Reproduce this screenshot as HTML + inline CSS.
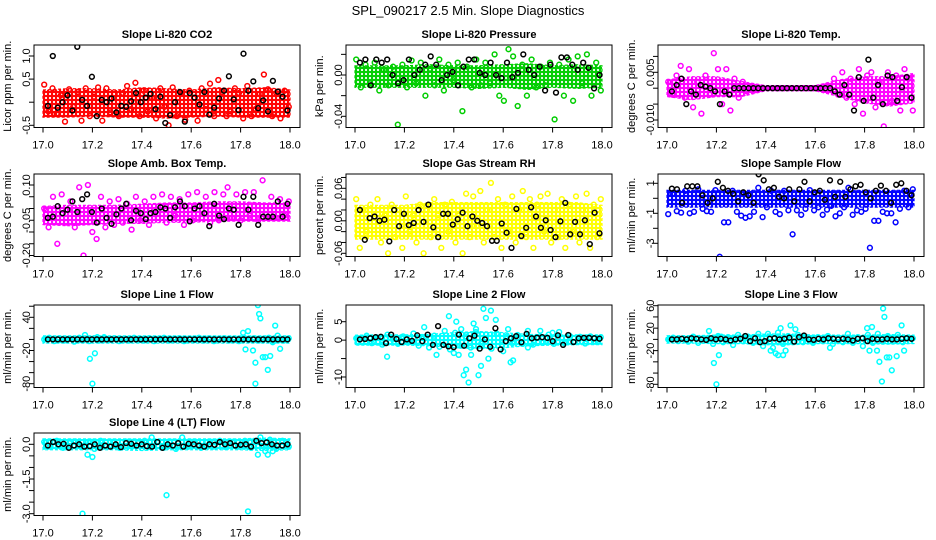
<!DOCTYPE html>
<html><head><meta charset="utf-8"><title>SPL_090217 Slope Diagnostics</title>
<style>
html,body{margin:0;padding:0;background:#fff;}
svg{display:block;font-family:"Liberation Sans",Arial,sans-serif;}
</style></head>
<body>
<svg id="chart" width="936" height="540" viewBox="0 0 936 540" xmlns="http://www.w3.org/2000/svg">
<rect width="936" height="540" fill="#fff"/>
<text x="468" y="15" text-anchor="middle" font-size="13">SPL_090217  2.5 Min. Slope Diagnostics</text>
</svg>
<script>
// ---------- DATA ----------
const xTicks = [17.0,17.2,17.4,17.6,17.8,18.0];
const xTickLabels = ["17.0","17.2","17.4","17.6","17.8","18.0"];

// Panel 1: CO2
const co2Lo = [-0.28,-0.28,-0.26,-0.28,-0.28,-0.3,-0.28,-0.26,-0.28,-0.28,-0.28];
const co2Hi = [0.22,0.25,0.25,0.22,0.27,0.25,0.22,0.27,0.25,0.27,0.22];
const co2Vals = [0.38,-0.2,0.3,-0.25,0.15,-0.42,0.28,-0.1,0.22,-0.4,0.3,-0.3,0.12,0.32,-0.4,0.3,-0.22,0.18,-0.3,0.2,0.35,-0.15,0.42,-0.3,0.25,-0.2,0.1,-0.35,0.3,-0.1,-0.5,0.32,-0.3,0.2,-0.38,0.25,-0.25,-0.4,0.3,-0.15,0.4,-0.3,0.48,0.22,-0.3,-0.2,0.3,0.2,-0.35,0.35,-0.3,-0.15,0.18,0.6,0.28,-0.3,0.2,-0.35,0.25,-0.1];
const co2Black = [-0.08,1.0,-0.12,0.0,0.15,-0.18,1.2,0.05,-0.08,0.55,-0.3,0.05,0.0,0.08,-0.22,-0.08,-0.1,0.02,0.2,0.0,0.1,0.18,-0.15,0.12,-0.45,-0.28,0.0,0.22,-0.42,0.2,0.1,-0.05,0.22,-0.27,-0.12,0.08,0.25,0.56,0.06,-0.17,1.05,0.25,0.45,-0.13,0.04,-0.2,0.46,0.23,0.12,-0.18];
const co2Ticks = [-0.5,0,0.5,1.0];
const co2TickLabels = ["-0.5","","0.5","1.0"];

// Panel 2: Pressure
const prLo = [-0.01,-0.01,-0.01,-0.01,-0.01,-0.011,-0.01,-0.012,-0.01,-0.011,-0.01];
const prHi = [0.007,0.007,0.007,0.008,0.007,0.007,0.008,0.009,0.007,0.008,0.007];
const prVals = [0.015,-0.012,0.01,-0.008,0.012,-0.015,0.005,-0.01,0.008,-0.048,0.01,-0.012,0.014,-0.008,0.012,-0.02,0.006,-0.01,0.015,-0.015,0.01,-0.005,0.012,-0.035,0.008,-0.012,0.015,-0.01,0.012,-0.008,0.02,-0.02,-0.025,0.025,0.018,-0.03,0.01,-0.02,0.015,-0.012,0.008,-0.01,0.012,-0.043,0.01,-0.02,0.015,-0.025,0.018,-0.008,0.02,-0.02,0.012,-0.015];
const prBlack = [0.012,0.015,-0.01,0.015,0.012,0.015,0.0,-0.008,-0.005,0.015,0.0,0.005,0.01,0.018,0.01,-0.005,0.0,0.003,-0.01,0.008,0.015,0.015,0.002,0.0,0.012,0.0,-0.003,0.012,-0.002,0.002,0.02,0.005,0.0,0.008,-0.015,0.01,-0.017,0.017,0.017,0.01,0.005,0.012,0.007,-0.013,0.0];
const prTicks = [-0.04,-0.02,0,0.02];
const prTickLabels = ["-0.04","","0.00",""];

// Panel 3: Li-820 Temp
const ltLo = [-0.002,-0.003,-0.002,-0.002,-0.0002,-0.0002,-0.0002,-0.002,-0.004,-0.005,-0.004];
const ltHi = [0.002,0.003,0.003,0.0015,0.0002,0.0002,0.0002,0.002,0.003,0.003,0.004];
const ltVals = [0.002,-0.002,0.004,0.007,-0.003,0.006,-0.006,0.002,-0.008,0.004,-0.002,0.011,0.006,-0.005,0.006,-0.007,0.003,-0.003,0.002,-0.001,0,0,0,0,0,0,0,0,0,0,0,0,0,0,0,0,0,0,0,0,0.003,-0.002,0.005,-0.003,0.003,-0.005,0.006,-0.008,0.004,0.005,-0.006,0.002,-0.012,0.005,-0.004,0.004,-0.007,0.006,0.003,-0.007];
const ltBlack = [-0.001,0.001,0.003,-0.005,-0.001,-0.002,0.001,0.0005,0,-0.001,-0.005,-0.001,-0.002,0,0,0,0,0,0,0,0,0,0,0,0,0,0,0,0,0,0,0,0,0,-0.001,-0.002,0.001,-0.002,-0.007,0.0035,-0.004,0.009,-0.003,0.001,-0.005,0.004,0.0035,-0.004,0.0003,0.0035,-0.003];
const ltTicks = [-0.010,-0.005,0,0.005,0.010];
const ltTickLabels = ["-0.010","","","0.005",""];

// Panel 4: Amb Box Temp
const abLo = [-0.06,-0.065,-0.06,-0.055,-0.055,-0.05,-0.05,-0.045,-0.045,-0.045,-0.045];
const abHi = [0.0,0.005,0.005,0.005,0.01,0.015,0.015,0.02,0.02,0.015,0.015];
const abVals = [0.0,-0.08,0.05,-0.15,0.06,-0.06,0.03,-0.08,0.09,-0.2,0.1,-0.1,-0.13,0.05,-0.08,0.03,-0.07,0.04,-0.06,0.02,-0.09,0.05,-0.05,0.03,-0.07,0.05,-0.04,0.06,-0.06,0.05,-0.03,0.04,-0.07,0.06,-0.05,0.07,-0.04,0.05,-0.06,0.07,-0.05,0.06,0.09,-0.04,0.06,-0.05,0.07,-0.03,0.07,-0.05,0.12,-0.04,0.05,-0.04,0.04,-0.03,0.03];
const abBlack = [-0.04,-0.035,0.01,-0.02,-0.005,0.03,-0.015,0.04,0.06,-0.015,-0.06,0.0,-0.04,-0.065,-0.025,0.0,0.02,-0.05,-0.01,-0.02,-0.045,-0.02,-0.015,0.005,0.0,-0.04,0.005,0.03,0.01,-0.055,0.0,0.01,-0.02,-0.075,0.02,-0.03,-0.045,0.0,-0.005,-0.07,0.05,-0.005,0.05,-0.07,-0.035,-0.035,-0.035,0.03,-0.035,0.02];
const abTicks = [-0.20,-0.15,-0.10,-0.05,0,0.05,0.10];
const abTickLabels = ["-0.20","","","-0.05","","","0.10"];

// Panel 5: Gas Stream RH
const rhLo = [-0.03,-0.03,-0.03,-0.03,-0.03,-0.03,-0.03,-0.03,-0.03,-0.03,-0.03];
const rhHi = [0.025,0.025,0.025,0.03,0.03,0.03,0.03,0.03,0.03,0.03,0.025];
const rhVals = [0.04,-0.05,0.02,-0.02,0.03,-0.01,0.04,-0.04,0.01,-0.06,0.03,-0.03,0.02,-0.05,0.045,-0.02,0.01,-0.04,0.03,-0.06,0.02,-0.03,0.04,0.01,-0.05,0.03,-0.02,0.035,-0.04,0.01,-0.06,0.05,-0.03,0.045,-0.01,0.055,-0.04,0.02,0.07,-0.03,0.04,-0.05,0.03,-0.02,0.045,-0.04,0.02,0.055,-0.03,0.04,-0.05,0.03,0.045,-0.02,0.05,-0.04,0.02,-0.03,0.04,-0.05,0.03,-0.02,0.045,-0.04,0.02,0.05,-0.05,0.03,-0.03,0.04];
const rhBlack = [0.02,-0.035,0.005,0.008,0.0,0.002,-0.038,0.02,-0.01,0.013,-0.008,-0.004,0.02,-0.002,0.03,-0.012,-0.03,0.013,0.013,-0.007,0.003,0.015,-0.01,0.008,0.0,-0.004,-0.01,-0.037,-0.037,-0.005,-0.022,-0.05,0.022,-0.028,-0.013,0.025,0.008,-0.013,0.001,-0.017,-0.03,-0.001,0.033,-0.025,-0.002,-0.025,0.001,-0.043,0.015,-0.023];
const rhTicks = [-0.06,-0.04,-0.02,0,0.02,0.04,0.06,0.08];
const rhTickLabels = ["-0.06","","","0.00","","","0.06",""];

// Panel 6: Sample Flow
const sfLo = [-0.45,-0.45,-0.45,-0.45,-0.45,-0.45,-0.45,-0.45,-0.45,-0.45,-0.45];
const sfHi = [0.4,0.4,0.4,0.4,0.4,0.4,0.4,0.4,0.4,0.4,0.4];
const sfVals = [-1.05,0.3,-0.85,-0.95,0.5,-1.0,-0.9,0.6,-0.7,-0.85,-0.9,0.55,-3.9,-1.6,-1.6,0.5,-0.9,-1.15,-1.3,-1.2,-0.9,0.7,-1.25,-0.6,0.5,-0.9,-1.05,0.5,-0.8,-2.4,-0.8,-1.1,-0.7,0.55,-0.8,-0.6,-1.1,-0.75,-0.5,-1.2,-1.0,-0.6,0.7,-1.1,-0.8,-0.9,-0.7,-3.3,-1.5,-1.5,-0.9,-1.0,-1.0,-1.6,-0.7,0.5,-0.6,0.6];
const sfBlack = [0.65,0.6,-0.3,0.8,0.8,0.8,0.2,-0.3,0.0,1.1,0.7,0.5,0.3,-0.2,0.4,0.2,-0.3,1.6,1.2,0.6,0.7,0.1,0.0,0.6,-0.2,0.6,1.1,-0.2,0.4,0.5,-0.1,1.2,0.1,1.1,0.1,0.6,0.8,0.9,0.4,0.0,0.5,0.85,0.5,-0.3,0.9,1.0,0.5,0.2];
const sfTicks = [-3,-2,-1,0,1];
const sfTickLabels = ["-3","","-1","","1"];

// Panel 7: Line 1 Flow
const l1Lo = [-3,-3,-3,-3,-3,-3,-3,-3,-3,-3,-3];
const l1Hi = [3,3,3,3,3,3,3,3,3,3,3];
const l1Vals = [0,3,-3,2,-2,1,-4,3,0,-3,2,-2,4,-1,2,-3,1,-2,3,0,-2,2,-3,1,3,-2,0,2,-3,1,-1,3,-2,2,-3,0,2,-2,1,-3,3,-1,2,-2,0,3,-3,1,-2,2];
const l1OutX = [17.17,17.19,17.2,17.21,17.22,17.81,17.82,17.83,17.85,17.86,17.86,17.87,17.875,17.88,17.89,17.9,17.91,17.92,17.93,17.94,17.95,17.96];
const l1OutY = [8,-35,-80,-25,4,12,-18,15,-20,-42,-80,62,46,38,-32,-32,-55,-30,-5,25,7,-17];
const l1Black = [0,0,0,0,0,0,0,0,0,0,0,0,0,0,0,0,0,0,0,0,0,0,0,0,0,0,0,0,0,0,0,0,0,0,0,0,0,0,0,0,0,0,0,0,0,0,0,0,0,0];
const l1Ticks = [-80,-60,-40,-20,0,20,40,60];
const l1TickLabels = ["-80","","","-20","","","40",""];

// Panel 8: Line 2 Flow
const l2Lo = [-0.8,-0.8,-0.8,-1.0,-1.5,-1.8,-1.5,-1.0,-0.8,-0.7,-0.7];
const l2Hi = [0.8,0.9,0.9,1.0,1.5,1.8,1.5,1.0,0.9,0.9,0.9];
const l2Vals = [0.5,-0.5,1.2,-0.8,0.6,-1.2,1.5,0.2,-1.0,1.0,-0.5,1.8,-1.5,0.8,-2.0,1.2,-1.8,2.5,-2.5,2.0,-1.5,1.0,-2.0,2.2,-1.0,1.5,-2.3,1.8,-1.2,1.0,-0.8,1.4,-1.0,2.5,-1.2,0.8,-0.6,1.5,-1.0,2.2,-0.8,1.2,-0.5,0.9,-0.9,1.0,-0.4,0.8];
const l2OutX = [17.13,17.28,17.3,17.33,17.38,17.4,17.41,17.42,17.43,17.44,17.45,17.46,17.47,17.48,17.49,17.5,17.51,17.52,17.53,17.54,17.55,17.57,17.6,17.62,17.63,17.64,17.7,17.75,17.8];
const l2OutY = [-4.5,3.5,-2,-4,6.5,-3.5,5,-4,3,-9.5,-8,-11.5,-4,4.5,3,-9.5,-7,8.5,6,-5,8,5.5,-3,3,-6,-5.5,-2,2.5,2];
const l2Black = [0.2,0.3,0.5,0.8,0.9,-0.8,1.5,0.3,-0.5,0.2,-0.2,1.3,-0.3,1.5,-1.3,3.8,-1.3,-1.7,-1.9,1.5,-1.5,0.5,1.2,-2.3,0.2,-1.8,3.2,-2.5,-0.3,0.5,1.1,-0.6,1.7,0.5,0.7,0.8,0.6,-0.3,1.3,-1.3,1.4,-0.5,0.5,0.6,0.6,0.5,0.4];
const l2Ticks = [-10,-5,0,5];
const l2TickLabels = ["-10","","0","5"];

// Panel 9: Line 3 Flow
const l3Lo = [-3,-3,-4,-4,-6,-6,-4,-4,-4,-5,-4];
const l3Hi = [3,3,4,4,6,6,4,4,4,5,4];
const l3Vals = [0,3,-3,2,-4,5,-6,2,0,-8,6,-5,4,-10,8,-3,5,-6,3,-12,10,-15,12,-8,6,-4,8,-5,2,-6,4,-3,6,-8,3,-5,10,-6,4,-12,8,-6,10,-4,6,-3,8,-5,3,2];
const l3OutX = [17.17,17.19,17.2,17.21,17.22,17.37,17.42,17.44,17.45,17.46,17.47,17.48,17.5,17.52,17.55,17.66,17.81,17.82,17.83,17.85,17.86,17.87,17.875,17.88,17.89,17.9,17.91,17.93,17.95,17.96];
const l3OutY = [15,-42,-80,-28,5,10,-20,-25,-28,20,-28,-20,25,18,5,-15,20,-20,22,-20,-40,-75,55,40,-32,-32,-55,-30,25,-20];
const l3Black = [0,0,1,0,2,1,0,-1,2,0,1,0,-2,0,1,6,-3,2,-5,-3,1,2,0,1,3,-4,4,7,0,-1,1,0,2,1,0,1,0,-2,1,2,-3,1,0,0,1,0,0,1,2,1];
const l3Ticks = [-80,-60,-40,-20,0,20,40,60];
const l3TickLabels = ["-80","","","-20","","20","","60"];

// Panel 10: Line 4 (LT) Flow
const l4Lo = [-0.15,-0.15,-0.15,-0.15,-0.18,-0.15,-0.15,-0.15,-0.15,-0.18,-0.15];
const l4Hi = [0.15,0.15,0.15,0.15,0.15,0.15,0.15,0.15,0.15,0.18,0.15];
const l4Vals = [0.1,-0.1,0.15,-0.15,0.05,0.12,-0.12,0.1,-0.2,0.15,-0.08,0.1,-0.15,0.12,-0.1,0.05,0.15,-0.12,0.1,-0.15,0.12,-0.2,0.3,-0.1,0.12,-0.15,0.1,-0.1,0.15,-0.12,0.1,-0.1,0.15,-0.15,0.12,-0.1,0.2,-0.2,0.15,-0.1];
const l4OutX = [17.16,17.18,17.2,17.44,17.5,17.83,17.87,17.88,17.9,17.91,17.93];
const l4OutY = [-3.0,-0.45,-0.55,0.3,-2.2,-2.9,-0.45,0.3,-0.3,-0.45,-0.3];
const l4Black = [-0.05,0.1,0.0,0.02,-0.15,-0.05,0.0,-0.1,-0.08,0.0,-0.15,-0.05,-0.1,0.0,-0.12,0.05,0.02,-0.05,0.0,-0.08,-0.1,0.1,-0.15,0.0,-0.05,0.05,-0.1,0.02,0.0,-0.05,-0.1,0.0,-0.02,0.1,0.0,0.05,-0.05,-0.02,0.0,-0.1,0.15,0.05,0.08,0.0,-0.05,-0.05,0.0];
const l4Ticks = [-3.0,-2.5,-2.0,-1.5,-1.0,-0.5,0.0];
const l4TickLabels = ["-3.0","","","-1.5","","","0.0"];

// ---------- LAYOUT ----------
const NS = "http://www.w3.org/2000/svg";
const svg = document.getElementById('chart');
const colLeft = [34, 346, 658];
const rowTop = [45, 174, 305, 433];
const BW = 266, BH = 82.5;

const panels = [
 {slug:'co2', title:'Slope Li-820 CO2', ylab:'Licor ppm per min.', col:0,row:0, color:'#ff0000', v1:1.0,y1:56, v2:-0.5,y2:125.3, lo:co2Lo,hi:co2Hi,vals:co2Vals,black:co2Black,ticks:co2Ticks,labels:co2TickLabels},
 {slug:'pressure', title:'Slope Li-820 Pressure', ylab:'kPa per min.', col:1,row:0, color:'#00cd00', v1:0.0,y1:75, v2:-0.04,y2:116.3, lo:prLo,hi:prHi,vals:prVals,black:prBlack,ticks:prTicks,labels:prTickLabels},
 {slug:'li820-temp', title:'Slope Li-820 Temp.', ylab:'degrees C per min.', col:2,row:0, color:'#ff00ff', v1:0.005,y1:72.3, v2:-0.010,y2:120, lo:ltLo,hi:ltHi,vals:ltVals,black:ltBlack,ticks:ltTicks,labels:ltTickLabels},
 {slug:'amb-box-temp', title:'Slope Amb. Box Temp.', ylab:'degrees C per min.', col:0,row:1, color:'#ff00ff', v1:0.10,y1:185, v2:-0.20,y2:255.5, lo:abLo,hi:abHi,vals:abVals,black:abBlack,ticks:abTicks,labels:abTickLabels},
 {slug:'gas-rh', title:'Slope Gas Stream RH', ylab:'percent per min.', col:1,row:1, color:'#ffff00', v1:0.06,y1:188.3, v2:-0.06,y2:253.3, lo:rhLo,hi:rhHi,vals:rhVals,black:rhBlack,ticks:rhTicks,labels:rhTickLabels},
 {slug:'sample-flow', title:'Slope Sample Flow', ylab:'ml/min per min.', col:2,row:1, color:'#0000ff', v1:1,y1:183.3, v2:-3,y2:243.3, lo:sfLo,hi:sfHi,vals:sfVals,black:sfBlack,ticks:sfTicks,labels:sfTickLabels},
 {slug:'line1-flow', title:'Slope Line 1 Flow', ylab:'ml/min per min.', col:0,row:2, color:'#00ffff', v1:40,y1:317.3, v2:-80,y2:383.7, lo:l1Lo,hi:l1Hi,vals:l1Vals,outX:l1OutX,outY:l1OutY,black:l1Black,ticks:l1Ticks,labels:l1TickLabels},
 {slug:'line2-flow', title:'Slope Line 2 Flow', ylab:'ml/min per min.', col:1,row:2, color:'#00ffff', v1:5,y1:321.7, v2:-10,y2:377, lo:l2Lo,hi:l2Hi,vals:l2Vals,outX:l2OutX,outY:l2OutY,black:l2Black,ticks:l2Ticks,labels:l2TickLabels},
 {slug:'line3-flow', title:'Slope Line 3 Flow', ylab:'ml/min per min.', col:2,row:2, color:'#00ffff', v1:60,y1:305.7, v2:-80,y2:384.3, lo:l3Lo,hi:l3Hi,vals:l3Vals,outX:l3OutX,outY:l3OutY,black:l3Black,ticks:l3Ticks,labels:l3TickLabels},
 {slug:'line4-flow', title:'Slope Line 4 (LT) Flow', ylab:'ml/min per min.', col:0,row:3, color:'#00ffff', v1:0,y1:444.3, v2:-3,y2:513.7, lo:l4Lo,hi:l4Hi,vals:l4Vals,outX:l4OutX,outY:l4OutY,black:l4Black,ticks:l4Ticks,labels:l4TickLabels}
];

function mk(tag, attrs, parent){
  const e = document.createElementNS(NS, tag);
  for (const k in attrs) e.setAttribute(k, attrs[k]);
  parent.appendChild(e);
  return e;
}
function circ(g, cx, cy, color){
  const c = mk('circle', {cx:cx.toFixed(1), cy:cy.toFixed(1), r:2.4, fill:'none', stroke:color, 'stroke-width':1.5}, g);
  
  
}

const defs = mk('defs', {}, svg);

panels.forEach(p => {
  const L = colLeft[p.col], T = rowTop[p.row], B = T + BH;
  const xScale = v => (L + 9) + (v - 17) * 247;
  const yScale = v => p.y1 + (v - p.v1) * (p.y2 - p.y1) / (p.v2 - p.v1);
  const g = mk('g', {}, svg);
  
  

  // ring texture pattern for dense core
  const pat = mk('pattern', {id:'pat-' + p.slug, width:4, height:4, patternUnits:'userSpaceOnUse'}, defs);
  mk('circle', {cx:2, cy:2, r:1.9, fill:'none', stroke:p.color, 'stroke-width':1.6}, pat);

  const clip = mk('clipPath', {id:'clip-' + p.slug}, g);
  mk('rect', {x:L, y:T, width:BW, height:BH}, clip);
  const plot = mk('g', {'clip-path':'url(#clip-' + p.slug + ')'}, g);
  
  

  // dense core band
  const n = p.lo.length;
  let pts = [];
  for (let i = 0; i < n; i++) pts.push(xScale(17 + i/(n-1)).toFixed(1) + ',' + (yScale(p.hi[i]) - 2).toFixed(1));
  for (let i = n-1; i >= 0; i--) pts.push(xScale(17 + i/(n-1)).toFixed(1) + ',' + (yScale(p.lo[i]) + 2).toFixed(1));
  const band = mk('polygon', {points:pts.join(' '), fill:'url(#pat-' + p.slug + ')', stroke:p.color, 'stroke-width':1.2, 'stroke-dasharray':'3 2'}, plot);
  
  

  // colored scatter
  const m = p.vals.length;
  p.vals.forEach((v, i) => circ(plot, xScale(17.005 + 0.99 * i/(m-1)), yScale(v), p.color));
  if (p.outX) p.outX.forEach((xv, i) => circ(plot, xScale(xv), yScale(p.outY[i]), p.color));
  // black series
  const k = p.black.length;
  p.black.forEach((v, i) => circ(plot, xScale(17.02 + 0.97 * i/(k-1)), yScale(v), '#000'));

  // frame
  const frame = mk('rect', {x:L, y:T, width:BW, height:BH, fill:'none', stroke:'#000', 'stroke-width':1}, g);
  
  

  // title
  const t = mk('text', {x:L + BW/2, y:T - 7, 'text-anchor':'middle', 'font-size':11, 'font-weight':'bold'}, g);
  t.textContent = p.title;
  
  

  // x axis
  mk('line', {x1:xScale(17), x2:xScale(18), y1:B, y2:B, stroke:'#000'}, g);
  xTicks.forEach((v, i) => {
    mk('line', {x1:xScale(v), x2:xScale(v), y1:B, y2:B + 5, stroke:'#000'}, g);
    const tl = mk('text', {x:xScale(v), y:B + 21, 'text-anchor':'middle', 'font-size':11}, g);
    tl.textContent = xTickLabels[i];
    
    
  });

  // y axis
  const yt = p.ticks.map(yScale);
  mk('line', {x1:L, x2:L, y1:Math.min(...yt), y2:Math.max(...yt), stroke:'#000'}, g);
  p.ticks.forEach((v, i) => {
    const y = yScale(v);
    mk('line', {x1:L - 5, x2:L, y1:y, y2:y, stroke:'#000'}, g);
    if (p.labels[i]) {
      const tl = mk('text', {x:L - 4, y:y, 'text-anchor':'middle', 'font-size':11, transform:'rotate(-90 ' + (L-4) + ' ' + y.toFixed(1) + ')'}, g);
      tl.textContent = p.labels[i];
      
      
    }
  });
  const cy = T + BH/2;
  const yl = mk('text', {x:L - 23, y:cy, 'text-anchor':'middle', 'font-size':11, transform:'rotate(-90 ' + (L-23) + ' ' + cy + ')'}, g);
  yl.textContent = p.ylab;
  
  
});
</script>
</body></html>
